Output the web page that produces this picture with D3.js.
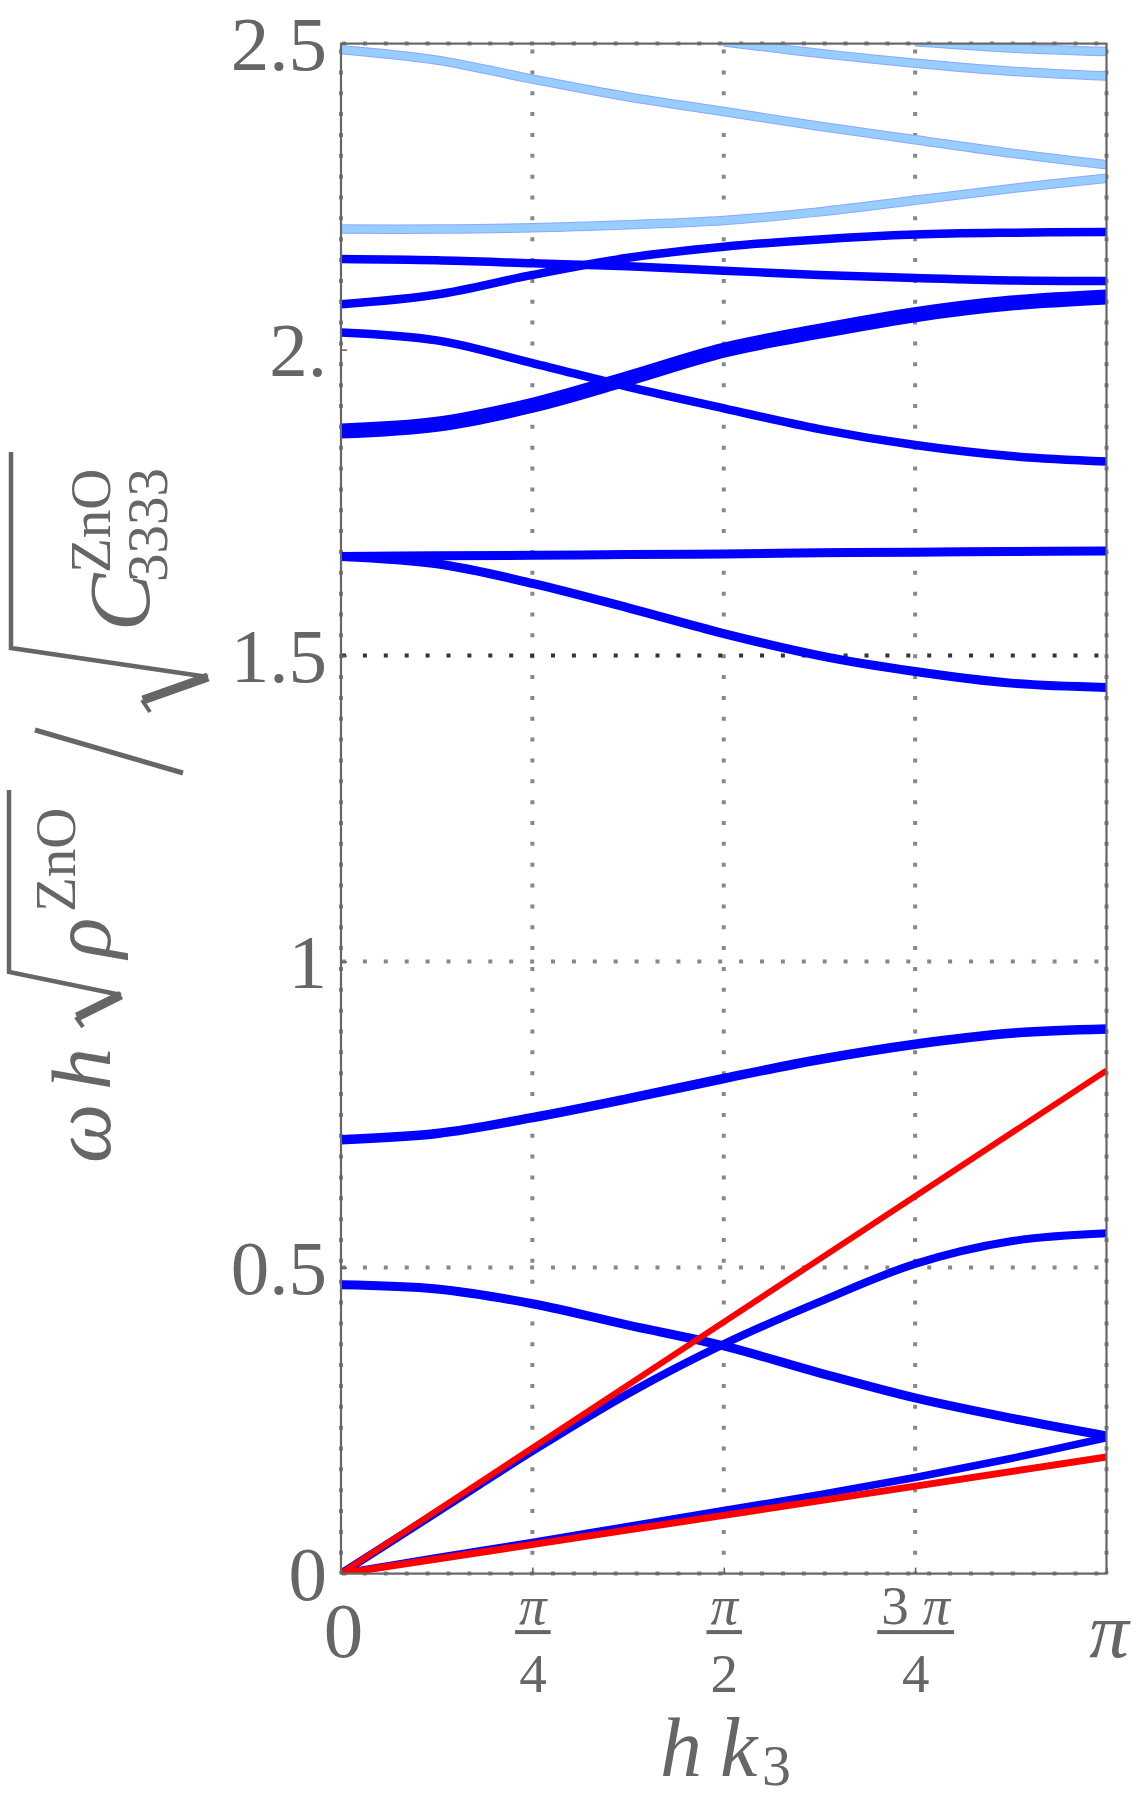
<!DOCTYPE html>
<html lang="en">
  <head>
    <meta charset="utf-8">
    <title>ZnO dispersion branches</title>
    <script type="text/javascript" src="https://cdn.jsdelivr.net/npm/d3@7"></script>
    <style>
      body { margin: 0; background: #fff; }
      text { fill: #666; font-family: "Liberation Serif", "DejaVu Serif", serif; }
    </style>
  </head>
  <body>
    <script type="text/javascript">

    var w = 1136;
    var h = 1801;

    // sample points along h k3, in units of pi
    var kGrid = [0, 0.125, 0.25, 0.375, 0.5, 0.625, 0.75, 0.875, 1];

    // dark blue branches
    var acousticLow  = [0, 0.026, 0.051, 0.077, 0.103, 0.129, 0.157, 0.188, 0.222];
    var acousticHigh = [0, 0.100, 0.200, 0.294, 0.375, 0.444, 0.506, 0.543, 0.556];
    var branch3  = [0.472, 0.465, 0.441, 0.406, 0.372, 0.328, 0.287, 0.254, 0.225];
    var branch4  = [0.709, 0.719, 0.745, 0.776, 0.809, 0.840, 0.865, 0.883, 0.890];
    var branch5  = [1.662, 1.663, 1.664, 1.665, 1.666, 1.668, 1.669, 1.670, 1.671];
    var branch6  = [1.662, 1.650, 1.618, 1.578, 1.536, 1.500, 1.474, 1.455, 1.448];
    var branch7  = [2.028, 2.015, 1.978, 1.939, 1.904, 1.870, 1.844, 1.826, 1.817];
    var branch8  = [1.867, 1.878, 1.909, 1.953, 1.999, 2.030, 2.057, 2.076, 2.086];
    var branch9  = [2.074, 2.090, 2.122, 2.150, 2.168, 2.180, 2.188, 2.191, 2.192];
    var branch10 = [2.148, 2.146, 2.141, 2.136, 2.129, 2.122, 2.117, 2.113, 2.112];

    // light blue branches
    var light1 = [2.197, 2.197, 2.199, 2.204, 2.211, 2.225, 2.244, 2.263, 2.280];
    var light2 = [2.490, 2.473, 2.442, 2.413, 2.389, 2.365, 2.343, 2.321, 2.302];
    var light3K = [0.5, 0.625, 0.75, 0.875, 1];
    var light3  = [2.503, 2.484, 2.468, 2.455, 2.447];
    var light4K = [0.75, 0.875, 1];
    var light4  = [2.503, 2.493, 2.487];

    // red straight lines
    var redK = [0, 1];
    var redHigh = [0, 0.822];
    var redLow  = [0, 0.1905];

    // ticks
    var yTickValues = [0, 0.5, 1, 1.5, 2, 2.5];
    var yTickLabels = ["0", "0.5", "1", "1.5", "2.", "2.5"];
    var yGridValues = [0, 0.5, 1, 1.5, 2.5];
    var xTickValues = [0, Math.PI / 4, Math.PI / 2, 3 * Math.PI / 4, Math.PI];
    var xTickNum = ["0", "π", "π", "3 π", "π"];
    var xTickDen = [null, "4", "2", "4", null];

    var padLeft = 341, padRight = 1106.5, padTop = 43.6, padBottom = 1573.6;

    var xScale = d3.scaleLinear().domain([0, Math.PI]).range([padLeft, padRight]);
    var yScale = d3.scaleLinear().domain([0, 2.5]).range([padBottom, padTop]);

    var svg = d3.select("body").append("svg")
                .attr("width", w)
                .attr("height", h);

    svg.append("defs").append("clipPath").attr("id", "plotclip")
       .append("rect")
       .attr("x", padLeft).attr("y", padTop)
       .attr("width", padRight - padLeft).attr("height", padBottom - padTop);

    // dotted grid
    var grid = svg.append("g");
    grid.selectAll("line.gx")
        .data(xTickValues)
        .enter()
        .append("line")
        .attr("x1", function(d) { return xScale(d); })
        .attr("x2", function(d) { return xScale(d); })
        .attr("y1", padBottom)
        .attr("y2", padTop)
        .attr("stroke", "#888")
        .attr("stroke-width", 4)
        .attr("stroke-dasharray", "4,16.85")
        .attr("stroke-dashoffset", 2);

    grid.selectAll("line.gy")
        .data(yGridValues)
        .enter()
        .append("line")
        .attr("x1", padLeft)
        .attr("x2", padRight)
        .attr("y1", function(d) { return yScale(d); })
        .attr("y2", function(d) { return yScale(d); })
        .attr("stroke", function(d) { return d === 1.5 ? "#333" : "#888"; })
        .attr("stroke-width", 4)
        .attr("stroke-dasharray", "4,16.9")
        .attr("stroke-dashoffset", -1);

    function pts(ks, vs) {
      return ks.map(function(k, i) { return [k * Math.PI, vs[i]]; });
    }

    var curves = [
      { p: pts(kGrid, light1), color: "#99ccff", edge: "#86aaff", width: 9.5 },
      { p: pts(kGrid, light2), color: "#99ccff", edge: "#86aaff", width: 9.5 },
      { p: pts(light3K, light3), color: "#99ccff", edge: "#86aaff", width: 9.5 },
      { p: pts(light4K, light4), color: "#99ccff", edge: "#86aaff", width: 9.5 },
      { p: pts(kGrid, acousticLow), color: "#0000ff", width: 7.5 },
      { p: pts(kGrid, acousticHigh), color: "#0000ff", width: 8 },
      { p: pts(kGrid, branch3), color: "#0000ff", width: 9 },
      { p: pts(kGrid, branch4), color: "#0000ff", width: 9.5 },
      { p: pts(kGrid, branch5), color: "#0000ff", width: 9 },
      { p: pts(kGrid, branch6), color: "#0000ff", width: 9 },
      { p: pts(kGrid, branch7), color: "#0000ff", width: 8.5 },
      { p: pts(kGrid, branch8), color: "#0000ff", width: 15 },
      { p: pts(kGrid, branch9), color: "#0000ff", width: 8.5 },
      { p: pts(kGrid, branch10), color: "#0000ff", width: 8.5 },
      { p: pts(redK, redHigh), color: "#ff0000", width: 6 },
      { p: pts(redK, redLow), color: "#ff0000", width: 7 }
    ];

    var line = d3.line()
                 .x(function(d) { return xScale(d[0]); })
                 .y(function(d) { return yScale(d[1]); })
                 .curve(d3.curveCatmullRom.alpha(0.5));

    var plot = svg.append("g").attr("clip-path", "url(#plotclip)");
    curves.forEach(function(c) {
      if (c.edge) {
        plot.append("path")
            .attr("d", line(c.p))
            .attr("fill", "none")
            .attr("stroke", c.edge)
            .attr("stroke-width", c.width);
      }
      plot.append("path")
          .attr("d", line(c.p))
          .attr("fill", "none")
          .attr("stroke", c.color)
          .attr("stroke-width", c.edge ? c.width - 2 : c.width);
    });

    // frame
    svg.append("rect")
       .attr("x", padLeft).attr("y", padTop)
       .attr("width", padRight - padLeft).attr("height", padBottom - padTop)
       .attr("fill", "none")
       .attr("stroke", "#666")
       .attr("stroke-width", 2.2);

    // y axis
    var yAxis = d3.axisLeft(yScale)
                  .tickValues(yTickValues)
                  .tickSize(-6)
                  .tickPadding(14)
                  .tickFormat(function(d, i) { return yTickLabels[i]; });

    var gy = svg.append("g")
                .attr("transform", "translate(" + padLeft + ",0)")
                .call(yAxis);
    gy.select(".domain").remove();
    gy.selectAll(".tick line").attr("stroke", "#666").attr("stroke-width", 1.6);
    gy.selectAll(".tick text")
      .style("font-size", "77px")
      .attr("dy", "0.33em");

    // x axis
    var xAxis = d3.axisBottom(xScale)
                  .tickValues(xTickValues)
                  .tickSize(-6)
                  .tickFormat("");

    var gx = svg.append("g")
                .attr("transform", "translate(0," + padBottom + ")")
                .call(xAxis);
    gx.select(".domain").remove();
    gx.selectAll(".tick line").attr("stroke", "#666").attr("stroke-width", 1.6);
    gx.selectAll(".tick text").remove();

    gx.selectAll(".tick").each(function(d, i) {
      var g = d3.select(this);
      if (xTickDen[i] === null) {
        g.append("text")
         .attr("x", 2)
         .attr("y", 83)
         .attr("text-anchor", "middle")
         .style("font-size", "79px")
         .style("font-style", xTickNum[i] === "0" ? "normal" : "italic")
         .text(xTickNum[i]);
      } else {
        var num = g.append("text")
                   .attr("y", 50)
                   .attr("text-anchor", "middle")
                   .style("font-size", "55px");
        var parts = xTickNum[i].split(" ");
        if (parts.length > 1) {
          num.append("tspan").text(parts[0] + " ");
          num.append("tspan").style("font-style", "italic").text(parts[1]);
        } else {
          num.append("tspan").style("font-style", "italic").text(parts[0]);
        }
        var den = g.append("text")
                   .attr("y", 118)
                   .attr("text-anchor", "middle")
                   .style("font-size", "55px")
                   .text(xTickDen[i]);
        var bw = Math.max(num.node().getComputedTextLength(),
                          den.node().getComputedTextLength()) + 8;
        g.append("rect")
         .attr("x", -bw / 2)
         .attr("y", 56.5)
         .attr("width", bw)
         .attr("height", 4)
         .attr("fill", "#666");
      }
    });

    // x axis title: h k3
    var xt = svg.append("text")
                .attr("y", 1776)
                .style("font-size", "84px");
    xt.append("tspan").attr("x", 660).style("font-style", "italic").text("h");
    xt.append("tspan").attr("x", 720).style("font-style", "italic").text("k");
    xt.append("tspan").attr("x", 762).attr("dy", 9).style("font-size", "58px").text("3");

    // y axis title: omega h sqrt(rho^ZnO) / sqrt(C^ZnO_3333), rotated
    var yl = svg.append("g").attr("transform", "translate(110,1163) rotate(-90)");
    yl.append("text").attr("x", 0).attr("y", 0)
      .style("font-size", "84px").style("font-style", "italic").text("ω");
    yl.append("text").attr("x", 73).attr("y", 0)
      .style("font-size", "84px").style("font-style", "italic").text("h");
    yl.append("text").attr("x", 205).attr("y", 0)
      .style("font-size", "84px").style("font-style", "italic").text("ρ");
    yl.append("text").attr("x", 251).attr("y", -35)
      .style("font-size", "57px").text("ZnO");
    yl.append("text").attr("x", 532).attr("y", 39)
      .style("font-size", "86px").style("font-style", "italic").text("C");
    yl.append("text").attr("x", 590).attr("y", 0)
      .style("font-size", "57px").text("ZnO");
    yl.append("text").attr("x", 581).attr("y", 57)
      .style("font-size", "57px").text("3333");

    var rline = d3.line();
    // first radical
    yl.append("path").attr("d", rline([[146, -33], [168, 11]]))
      .attr("fill", "none").attr("stroke", "#666").attr("stroke-width", 9);
    yl.append("path").attr("d", rline([[136, -27], [146, -34]]))
      .attr("fill", "none").attr("stroke", "#666").attr("stroke-width", 4);
    yl.append("path").attr("d", rline([[168, 11], [191, -101], [373, -101]]))
      .attr("fill", "none").attr("stroke", "#666").attr("stroke-width", 4.5);
    // slash
    yl.append("path").attr("d", rline([[433, -75], [390, 73]]))
      .attr("fill", "none").attr("stroke", "#666").attr("stroke-width", 5);
    // second radical
    yl.append("path").attr("d", rline([[463, 33], [486, 98]]))
      .attr("fill", "none").attr("stroke", "#666").attr("stroke-width", 9);
    yl.append("path").attr("d", rline([[451, 40], [463, 32]]))
      .attr("fill", "none").attr("stroke", "#666").attr("stroke-width", 4);
    yl.append("path").attr("d", rline([[486, 98], [515, -99], [711, -99]]))
      .attr("fill", "none").attr("stroke", "#666").attr("stroke-width", 4.5);

    </script>
  </body>
</html>
